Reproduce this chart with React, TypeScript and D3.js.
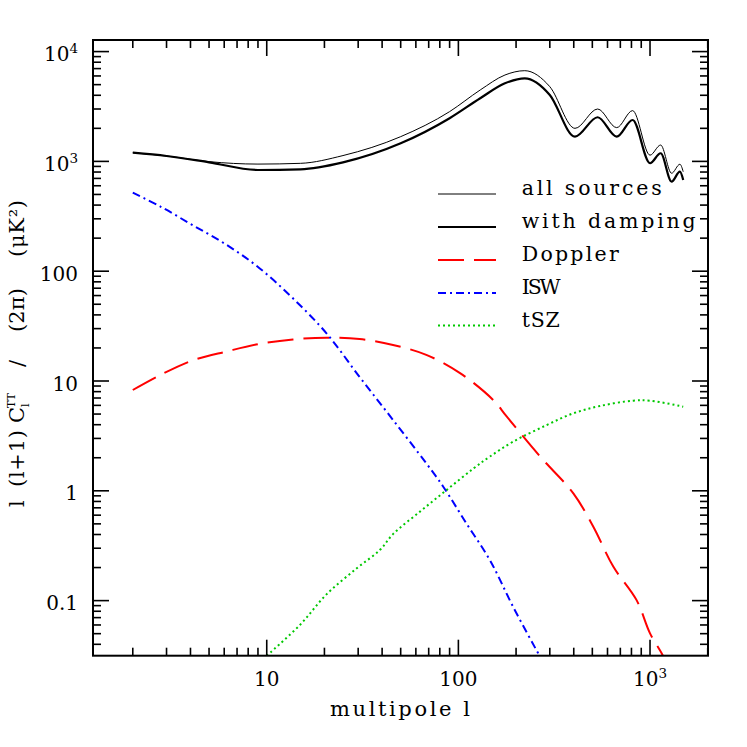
import React from "react";
import * as d3 from "d3";

// ---- data ----
const L_MAIN = [2, 3, 5, 9, 15, 25, 50, 90, 130, 175, 222, 300, 406, 533, 670, 811, 1000, 1136, 1296, 1432, 1490];
const ALL_SOURCES = [1200, 1120, 995, 945, 960, 1130, 1680, 2840, 4470, 6120, 6700, 4790, 2000, 3000, 2030, 2900, 1140, 1409, 780, 942, 806];
const WITH_DAMPING = [1200, 1120, 981, 835, 847, 980, 1461, 2472, 3757, 5140, 5710, 4027, 1680, 2524, 1680, 2383, 962, 1186, 654, 806, 677];

const L_DOPPLER = [2, 2.8, 4.1, 6.2, 9.2, 13.7, 20.5, 30.5, 45.6, 68, 102, 152, 179, 267, 398, 506, 643, 851, 1000, 1173, 1260];
const DOPPLER = [8.28, 11.4, 15.4, 18.6, 21.8, 23.9, 24.8, 24.1, 21.3, 17.3, 11.8, 6.71, 4.73, 2.05, 0.948, 0.471, 0.204, 0.101, 0.0503, 0.031, 0.022];

const L_ISW = [2, 2.8, 4.1, 6.2, 9.2, 13.7, 20.5, 30.5, 45.6, 68, 83.4, 110, 146, 193, 267, 290];
const ISW = [519, 386, 263, 173, 106, 56.6, 27.2, 10.9, 4.42, 1.78, 1.09, 0.506, 0.234, 0.0879, 0.0308, 0.024];

const L_TSZ = [10, 14.9, 20.5, 29.4, 39, 45.7, 63, 87, 120, 146, 193, 289, 398, 548, 817, 1000, 1490];
const TSZ = [0.0315, 0.060, 0.114, 0.196, 0.290, 0.405, 0.646, 1.02, 1.60, 2.05, 2.80, 3.97, 5.08, 5.92, 6.62, 6.62, 5.84];

const X_TICKS = [10, 100, 1000];
const X_TICK_LABELS = [["10", ""], ["100", ""], ["10", "3"]];
const Y_TICKS = [0.1, 1, 10, 100, 1000, 10000];
const Y_TICK_LABELS = [["0.1", ""], ["1", ""], ["10", ""], ["100", ""], ["10", "3"], ["10", "4"]];

const LEGEND_LABELS = ["all sources", "with damping", "Doppler", "ISW", "tSZ"];

// ---- layout ----
const W = 747, H = 747;
const X0 = 93, X1 = 708, Y0 = 40, Y1 = 655.7;
const FONT = "DejaVu Serif";

export default function App() {
  const x = d3.scaleLog().domain([1.24, 2007]).range([X0, X1]);
  const y = d3.scaleLog().domain([0.0315, 12750]).range([Y1, Y0]);

  const path = (ls: number[], vs: number[], smooth: boolean) =>
    d3.line<number>()
      .x((i) => x(ls[i]))
      .y((i) => y(vs[i]))
      .curve(smooth ? d3.curveCatmullRom.alpha(0.5) : d3.curveMonotoneX)(ls.map((_, i) => i)) || "";

  const minorX: number[] = [];
  for (let k = 0; k <= 3; k++) for (let m = 2; m <= 9; m++) {
    const v = m * Math.pow(10, k);
    if (v > 1.24 && v < 2007) minorX.push(v);
  }
  const minorY: number[] = [];
  for (let k = -2; k <= 4; k++) for (let m = 2; m <= 9; m++) {
    const v = m * Math.pow(10, k);
    if (v > 0.0315 && v < 12750) minorY.push(v);
  }

  const series = [
    { d: path(L_MAIN, ALL_SOURCES, false), stroke: "#000", w: 1, dash: undefined as string | undefined },
    { d: path(L_MAIN, WITH_DAMPING, false), stroke: "#000", w: 2.2, dash: undefined },
    { d: path(L_DOPPLER, DOPPLER, true), stroke: "#ff0000", w: 2, dash: "26,10" },
    { d: path(L_ISW, ISW, true), stroke: "#0000ff", w: 2, dash: "8,4,2,4" },
    { d: path(L_TSZ, TSZ, true), stroke: "#00c800", w: 2, dash: "2,3" },
  ];
  const legendLens = [140, 174, 97, 39, 38];
  const legendY = [194, 227, 260, 293, 325.5];

  return (
    <svg width={W} height={H} style={{ position: "absolute", left: 0, top: 0, background: "#fff" }} fontFamily={FONT}>
      <rect x={0} y={0} width={W} height={H} fill="#fff" />
      <defs>
        <clipPath id="plot">
          <rect x={X0} y={Y0} width={X1 - X0} height={Y1 - Y0} />
        </clipPath>
      </defs>

      {/* curves */}
      <g clipPath="url(#plot)" fill="none">
        {series.map((s, i) => (
          <path key={i} d={s.d} stroke={s.stroke} strokeWidth={s.w} strokeDasharray={s.dash} />
        ))}
      </g>

      {/* ticks */}
      <g stroke="#000" strokeWidth={1.6}>
        {X_TICKS.map((v) => (
          <g key={"xM" + v}>
            <line x1={x(v)} x2={x(v)} y1={Y1} y2={Y1 - 16} />
            <line x1={x(v)} x2={x(v)} y1={Y0} y2={Y0 + 16} />
          </g>
        ))}
        {minorX.map((v) => (
          <g key={"xm" + v}>
            <line x1={x(v)} x2={x(v)} y1={Y1} y2={Y1 - 8} />
            <line x1={x(v)} x2={x(v)} y1={Y0} y2={Y0 + 8} />
          </g>
        ))}
        {Y_TICKS.map((v) => (
          <g key={"yM" + v}>
            <line x1={X0} x2={X0 + 16} y1={y(v)} y2={y(v)} />
            <line x1={X1} x2={X1 - 16} y1={y(v)} y2={y(v)} />
          </g>
        ))}
        {minorY.map((v) => (
          <g key={"ym" + v}>
            <line x1={X0} x2={X0 + 8} y1={y(v)} y2={y(v)} />
            <line x1={X1} x2={X1 - 8} y1={y(v)} y2={y(v)} />
          </g>
        ))}
      </g>

      {/* frame */}
      <rect x={X0} y={Y0} width={X1 - X0} height={Y1 - Y0} fill="none" stroke="#000" strokeWidth={2} />

      {/* tick labels */}
      <g fontSize={20} fill="#000">
        {X_TICKS.map((v, i) => (
          <text key={"xl" + v} x={x(v)} y={686} textAnchor="middle">
            {X_TICK_LABELS[i][0]}
            {X_TICK_LABELS[i][1] && <tspan dy={-8} fontSize={13.5}>{X_TICK_LABELS[i][1]}</tspan>}
          </text>
        ))}
        {Y_TICKS.map((v, i) => (
          <text key={"yl" + v} x={78} y={y(v) + 9.5} textAnchor="end">
            {Y_TICK_LABELS[i][0]}
            {Y_TICK_LABELS[i][1] && <tspan dy={-8} fontSize={13.5}>{Y_TICK_LABELS[i][1]}</tspan>}
          </text>
        ))}
      </g>

      {/* axis labels */}
      <text x={330} y={716} fontSize={21} textLength={140} lengthAdjust="spacing">multipole l</text>
      <g transform="translate(24,507) rotate(-90)" fontSize={21}>
        <text x={0} y={0}>l</text>
        <text x={20} y={0} textLength={57} lengthAdjust="spacing">(l+1)</text>
        <text x={84} y={0}>C</text>
        <text x={99} y={-9} fontSize={11}>TT</text>
        <text x={100} y={5} fontSize={11}>l</text>
        <text x={140} y={0}>/</text>
        <text x={175} y={0} textLength={44} lengthAdjust="spacing">(2π)</text>
        <text x={250} y={0} textLength={57} lengthAdjust="spacing">(μK²)</text>
      </g>

      {/* legend */}
      <g>
        {series.map((s, i) => (
          <g key={"lg" + i}>
            <line x1={438} x2={496} y1={legendY[i]} y2={legendY[i]} stroke={s.stroke} strokeWidth={s.w} strokeDasharray={s.dash} />
            <text x={521.7} y={legendY[i] + 1} fontSize={20.5} textLength={legendLens[i]} lengthAdjust="spacing">
              {LEGEND_LABELS[i]}
            </text>
          </g>
        ))}
      </g>
    </svg>
  );
}
